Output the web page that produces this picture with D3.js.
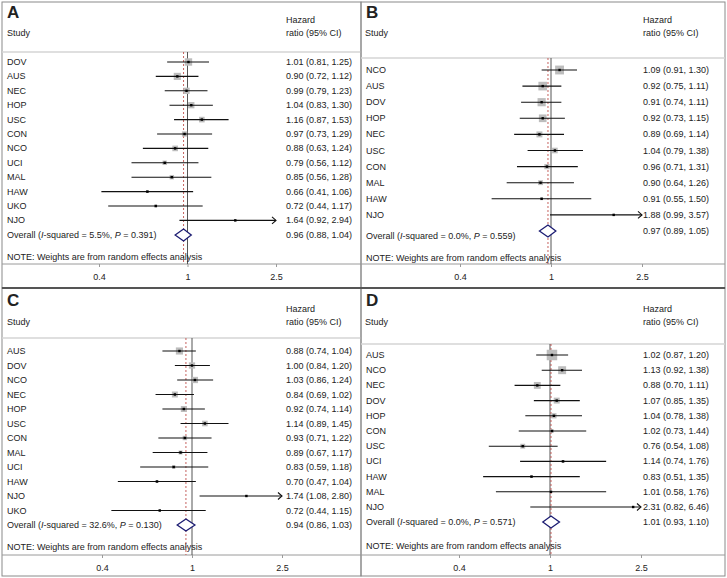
<!DOCTYPE html>
<html>
<head>
<meta charset="utf-8">
<script src="https://cdn.jsdelivr.net/npm/d3@7/dist/d3.min.js"></script>
<style>
  html, body { margin: 0; padding: 0; background: #fff; }
  svg text { font-family: "Liberation Sans", Arial, Helvetica, sans-serif; fill: #222; }
</style>
</head>
<body>
<svg id="chart" width="727" height="578"></svg>
<script>
// ---------------- DATA ----------------
const tickValues = [0.4, 1, 2.5];
const tickLabels = ["0.4", "1", "2.5"];

const studiesA = ["DOV","AUS","NEC","HOP","USC","CON","NCO","UCI","MAL","HAW","UKO","NJO"];
const hrA      = [1.01, 0.90, 0.99, 1.04, 1.16, 0.97, 0.88, 0.79, 0.85, 0.66, 0.72, 1.64];
const lowA     = [0.81, 0.72, 0.79, 0.83, 0.87, 0.73, 0.63, 0.56, 0.56, 0.41, 0.44, 0.92];
const highA    = [1.25, 1.12, 1.23, 1.30, 1.53, 1.29, 1.24, 1.12, 1.28, 1.06, 1.17, 2.94];
const weightsA = [14, 13, 10, 10, 8, 7, 8, 5, 5, 2, 2, 1];
const overallA = [0.96, 0.88, 1.04];
const statsA   = ["5.5%", "0.391"];

const studiesB = ["NCO","AUS","DOV","HOP","NEC","USC","CON","MAL","HAW","NJO"];
const hrB      = [1.09, 0.92, 0.91, 0.92, 0.89, 1.04, 0.96, 0.90, 0.91, 1.88];
const lowB     = [0.91, 0.75, 0.74, 0.73, 0.69, 0.79, 0.71, 0.64, 0.55, 0.99];
const highB    = [1.30, 1.11, 1.11, 1.15, 1.14, 1.38, 1.31, 1.26, 1.50, 3.57];
const weightsB = [20, 19, 17, 15, 9, 8, 7, 6, 2, 1];
const overallB = [0.97, 0.89, 1.05];
const statsB   = ["0.0%", "0.559"];

const studiesC = ["AUS","DOV","NCO","NEC","HOP","USC","CON","MAL","UCI","HAW","NJO","UKO"];
const hrC      = [0.88, 1.00, 1.03, 0.84, 0.92, 1.14, 0.93, 0.89, 0.83, 0.70, 1.74, 0.72];
const lowC     = [0.74, 0.84, 0.86, 0.69, 0.74, 0.89, 0.71, 0.67, 0.59, 0.47, 1.08, 0.44];
const highC    = [1.04, 1.20, 1.24, 1.02, 1.14, 1.45, 1.22, 1.17, 1.18, 1.04, 2.80, 1.15];
const weightsC = [13, 10, 10, 9, 9, 8, 5, 4, 3, 2, 1, 1];
const overallC = [0.94, 0.86, 1.03];
const statsC   = ["32.6%", "0.130"];

const studiesD = ["AUS","NCO","NEC","DOV","HOP","CON","USC","UCI","HAW","MAL","NJO"];
const hrD      = [1.02, 1.13, 0.88, 1.07, 1.04, 1.02, 0.76, 1.14, 0.83, 1.01, 2.31];
const lowD     = [0.87, 0.92, 0.70, 0.85, 0.78, 0.73, 0.54, 0.74, 0.51, 0.58, 0.82];
const highD    = [1.20, 1.38, 1.11, 1.35, 1.38, 1.44, 1.08, 1.76, 1.35, 1.76, 6.46];
const weightsD = [28, 16, 12, 9, 7, 3, 6, 2, 2, 1, 1];
const overallD = [1.01, 0.93, 1.10];
const statsD   = ["0.0%", "0.571"];

// ---------------- LAYOUT ----------------
const panels = [
  { letter: "A", studies: studiesA, hr: hrA, low: lowA, high: highA, w: weightsA, overall: overallA, stats: statsA,
    left: 2, top: 2, right: 361, bottom: 288, xr: [99, 276], labelX: 7, valueX: 286,
    letterY: 12, hazY: 20, studyY: 33, sepY: 52, row0: 62, step: 14.4, ovY: 235, ovLabY: 235, noteY: 257, axisY: 264, tickY: 277 },
  { letter: "B", studies: studiesB, hr: hrB, low: lowB, high: highB, w: weightsB, overall: overallB, stats: statsB,
    left: 361, top: 2, right: 725, bottom: 288, xr: [460, 642], labelX: 366, valueX: 643,
    letterY: 12, hazY: 20, studyY: 33, sepY: 58, row0: 70, step: 16.1, ovY: 231, ovLabY: 236, noteY: 258, axisY: 264, tickY: 277 },
  { letter: "C", studies: studiesC, hr: hrC, low: lowC, high: highC, w: weightsC, overall: overallC, stats: statsC,
    left: 2, top: 288, right: 361, bottom: 576, xr: [102, 282], labelX: 7, valueX: 286,
    letterY: 300, hazY: 309, studyY: 322, sepY: 338, row0: 351, step: 14.5, ovY: 525, ovLabY: 525, noteY: 547, axisY: 555, tickY: 568 },
  { letter: "D", studies: studiesD, hr: hrD, low: lowD, high: highD, w: weightsD, overall: overallD, stats: statsD,
    left: 361, top: 288, right: 725, bottom: 576, xr: [459, 641], labelX: 366, valueX: 643,
    letterY: 300, hazY: 309, studyY: 322, sepY: 344, row0: 355, step: 15.2, ovY: 522, ovLabY: 522, noteY: 546, axisY: 555, tickY: 568 }
];

const svg = d3.select("#chart");
const fmt = d3.format(".2f");
const boxSize = d3.scaleSqrt().domain([0, 28]).range([0, 10.5]);

panels.forEach(p => {
  const g = svg.append("g");
  const x = d3.scaleLog().domain([0.4, 2.5]).range(p.xr);
  const xc = v => x(Math.max(0.4, Math.min(2.5, v)));
  const y = d3.scaleLinear().domain([0, 1]).range([p.row0, p.row0 + p.step]);

  // panel frame
  g.append("rect").attr("x", p.left).attr("y", p.top)
    .attr("width", p.right - p.left).attr("height", p.bottom - p.top)
    .attr("fill", "none").attr("stroke", "#8a8a8a").attr("stroke-width", 1);

  // header separator
  g.append("line").attr("x1", p.left).attr("x2", p.right).attr("y1", p.sepY).attr("y2", p.sepY)
    .attr("stroke", "#d4d4d4").attr("stroke-width", 1.5);

  // header text
  g.append("text").attr("x", p.labelX).attr("y", p.letterY).attr("dominant-baseline", "central")
    .attr("font-size", 17).attr("font-weight", "bold").attr("fill", "#111").text(p.letter);
  g.append("text").attr("x", p.labelX - (p.left > 100 ? 1 : 0)).attr("y", p.studyY).attr("dominant-baseline", "central")
    .attr("font-size", 9).text("Study");
  g.append("text").attr("x", p.valueX).attr("y", p.hazY).attr("dominant-baseline", "central")
    .attr("font-size", 9).text("Hazard");
  g.append("text").attr("x", p.valueX).attr("y", p.studyY).attr("dominant-baseline", "central")
    .attr("font-size", 9).text("ratio (95% CI)");

  // axis line
  g.append("line").attr("x1", p.left).attr("x2", p.right).attr("y1", p.axisY).attr("y2", p.axisY)
    .attr("stroke", "#9a9a9a").attr("stroke-width", 1);
  const axis = d3.axisBottom(x).tickValues(tickValues).tickFormat((d, i) => tickLabels[i]).tickSize(3).tickPadding(4);
  const ag = g.append("g").attr("transform", `translate(0,${p.axisY})`).call(axis);
  ag.select(".domain").remove();
  ag.selectAll(".tick line").attr("stroke", "#9a9a9a");
  ag.selectAll(".tick text").attr("font-size", 9).attr("fill", "#222")
    .attr("font-family", "Liberation Sans, Arial, sans-serif")
    .attr("y", p.tickY - p.axisY).attr("dy", null).attr("dominant-baseline", "central");

  // reference line at 1
  g.append("line").attr("x1", x(1)).attr("x2", x(1)).attr("y1", p.sepY).attr("y2", p.axisY)
    .attr("stroke", "#555").attr("stroke-width", 1);
  // dashed line at overall estimate
  g.append("line").attr("x1", x(p.overall[0])).attr("x2", x(p.overall[0]))
    .attr("y1", p.sepY).attr("y2", p.axisY)
    .attr("stroke", "#c0504d").attr("stroke-width", 0.9).attr("stroke-dasharray", "2,2");

  // rows
  const rows = p.studies.map((s, i) => ({ s, hr: p.hr[i], lo: p.low[i], hi: p.high[i], w: p.w[i], i }));
  const rg = g.selectAll(".row").data(rows).enter().append("g");

  rg.append("text").attr("x", p.labelX).attr("y", d => y(d.i)).attr("dominant-baseline", "central")
    .attr("font-size", 9).text(d => d.s);
  rg.append("text").attr("x", p.valueX).attr("y", d => y(d.i)).attr("dominant-baseline", "central")
    .attr("font-size", 9).text(d => `${fmt(d.hr)} (${fmt(d.lo)}, ${fmt(d.hi)})`);

  // weight boxes
  rg.append("rect")
    .attr("x", d => x(d.hr) - boxSize(d.w) / 2).attr("y", d => y(d.i) - boxSize(d.w) / 2)
    .attr("width", d => boxSize(d.w)).attr("height", d => boxSize(d.w))
    .attr("fill", "#bdbdbd");
  // CI lines
  rg.append("line").attr("x1", d => xc(d.lo)).attr("x2", d => xc(d.hi))
    .attr("y1", d => y(d.i)).attr("y2", d => y(d.i))
    .attr("stroke", "#111").attr("stroke-width", 1.1);
  // arrows for clipped upper CI
  rg.filter(d => d.hi > 2.5).append("path")
    .attr("d", d => { const ax = x(2.5), ay = y(d.i); return `M${ax - 4},${ay - 3.5}L${ax},${ay}L${ax - 4},${ay + 3.5}`; })
    .attr("fill", "none").attr("stroke", "#111").attr("stroke-width", 1.1);
  // point estimates
  rg.append("rect").attr("x", d => x(d.hr) - 1.2).attr("y", d => y(d.i) - 1.2)
    .attr("width", 2.4).attr("height", 2.4).attr("fill", "#000");

  // overall diamond
  const [est, olo, ohi] = p.overall;
  g.append("path")
    .attr("d", `M${x(olo)},${p.ovY}L${x(est)},${p.ovY - 6}L${x(ohi)},${p.ovY}L${x(est)},${p.ovY + 6}Z`)
    .attr("fill", "#fff").attr("stroke", "#1c1c72").attr("stroke-width", 1.3);

  // overall label
  const ot = g.append("text").attr("x", p.labelX).attr("y", p.ovLabY).attr("dominant-baseline", "central").attr("font-size", 9);
  ot.append("tspan").text("Overall (");
  ot.append("tspan").attr("font-style", "italic").text("I");
  ot.append("tspan").text(`-squared = ${p.stats[0]}, `);
  ot.append("tspan").attr("font-style", "italic").text("P");
  ot.append("tspan").text(` = ${p.stats[1]})`);
  g.append("text").attr("x", p.valueX).attr("y", p.ovY).attr("dominant-baseline", "central").attr("font-size", 9)
    .text(`${fmt(est)} (${fmt(olo)}, ${fmt(ohi)})`);

  // note
  g.append("text").attr("x", p.labelX).attr("y", p.noteY).attr("dominant-baseline", "central").attr("font-size", 9)
    .text("NOTE: Weights are from random effects analysis");
});

// darker divider between top and bottom rows
svg.append("line").attr("x1", 2).attr("x2", 725).attr("y1", 288).attr("y2", 288)
  .attr("stroke", "#555").attr("stroke-width", 2);
</script>
</body>
</html>
